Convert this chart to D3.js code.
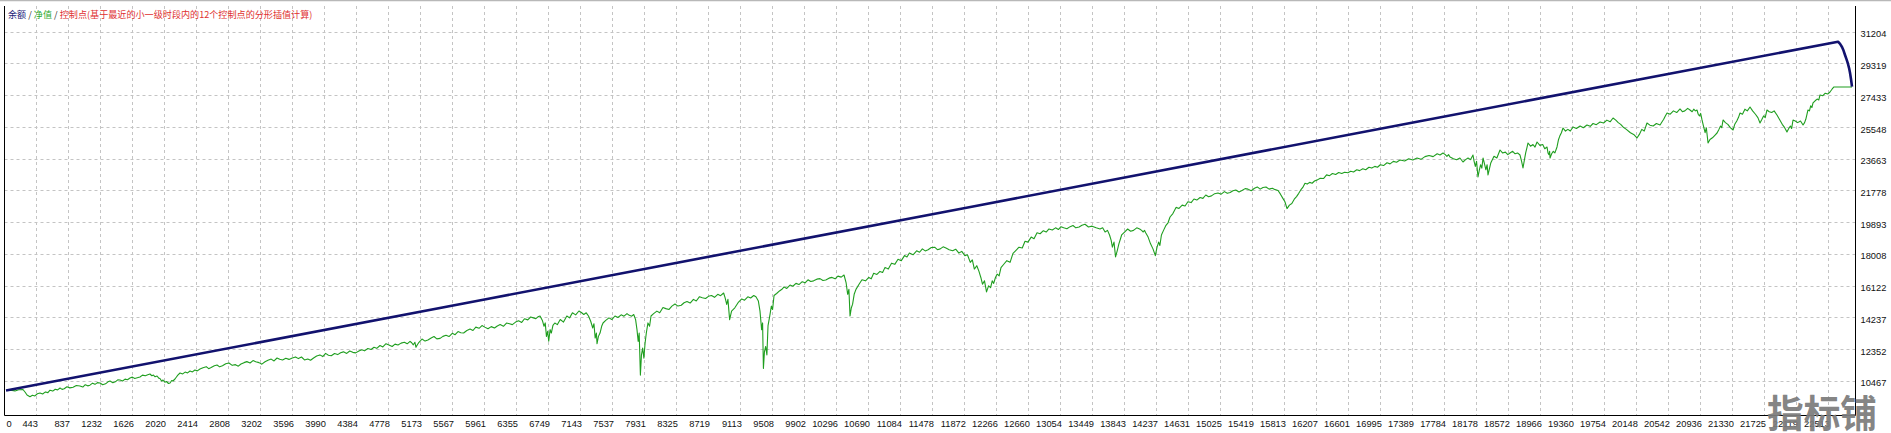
<!DOCTYPE html>
<html><head><meta charset="utf-8">
<script src="https://cdn.jsdelivr.net/npm/d3@7"></script>
<style>
html,body{margin:0;padding:0;background:#fff;overflow:hidden}
svg{display:block}
</style></head><body>
<svg id="c" width="1891" height="433"></svg>
<script>
// ---- legend texts ----
const legendParts = [
  {t:"余额", c:"#1a1a78"},
  {t:" / ", c:"#333333"},
  {t:"净值", c:"#2eaa2e"},
  {t:" / ", c:"#333333"},
  {t:"控制点(基于最近的小一级时段内的12个控制点的分形插值计算)", c:"#e03030"}
];
const watermarkText = "指标铺";

// ---- axis tick labels ----
const xTickValues = [0,443,837,1232,1626,2020,2414,2808,3202,3596,3990,4384,4778,5173,5567,5961,6355,6749,7143,7537,7931,8325,8719,9113,9508,9902,10296,10690,11084,11478,11872,12266,12660,13054,13449,13843,14237,14631,15025,15419,15813,16207,16601,16995,17389,17784,18178,18572,18966,19360,19754,20148,20542,20936,21330,21725,22119,22513];
const yTickValues = [10467,12352,14237,16122,18008,19893,21778,23663,25548,27433,29319,31204];

// ---- balance series [trade index, value] ----
const balance = [[74,9880],[6000,15325],[12000,20838],[17242,25660],[22637,30610],[22662,30480],[22686,30296],[22705,30080],[22723,29821],[22742,29560],[22760,29286],[22773,29040],[22785,28751],[22797,28380],[22809,27936]];

// ---- equity series [trade index, value] ----
const equity = [
[74,9880],[130,9900],[185,9860],[230,9930],[283,9944],[310,9780],[333,9617],[369,9516],[400,9600],[430,9560],[460,9690],[493,9736],[525,9680],[560,9800],[590,9760],[616,9900],[650,9850],[680,9960],[710,9920],[739,10033],[765,9950],[790,9990],[825,10110],[860,10040],[900,10080],[940,10180],[985,10152],[1020,10090],[1050,10230],[1080,10160],[1108,10200],[1140,10320],[1170,10250],[1200,10350],[1232,10330],[1265,10230],[1300,10280],[1330,10400],[1355,10449],[1390,10350],[1420,10400],[1450,10520],[1478,10509],[1510,10450],[1540,10560],[1570,10520],[1601,10627],[1630,10680],[1660,10600],[1690,10640],[1724,10687],[1755,10800],[1790,10760],[1820,10820],[1847,10865],[1870,10760],[1890,10800],[1910,10700],[1934,10746],[1955,10620],[1970,10600],[1990,10450],[2008,10509],[2030,10380],[2050,10420],[2075,10300],[2094,10330],[2115,10480],[2130,10450],[2155,10568],[2175,10700],[2190,10800],[2217,10925],[2250,10870],[2280,10980],[2310,10930],[2340,11043],[2370,10990],[2400,11100],[2430,11050],[2463,11162],
[2500,11240],[2540,11300],[2570,11180],[2600,11250],[2640,11360],[2673,11400],[2705,11290],[2740,11350],[2780,11470],[2820,11520],[2860,11380],[2900,11420],[2935,11330],[2968,11459],[3005,11540],[3040,11600],[3080,11520],[3116,11661],[3150,11590],[3190,11540],[3225,11450],[3264,11590],[3300,11680],[3340,11750],[3375,11640],[3412,11816],[3445,11740],[3480,11700],[3520,11800],[3559,11733],[3600,11820],[3640,11880],[3675,11780],[3713,11875],[3750,11700],[3790,11760],[3825,11680],[3862,11816],[3900,11930],[3940,12000],[3975,11900],[4010,12089],[4045,11980],[4080,11950],[4120,12080],[4159,12018],[4195,12130],[4230,12180],[4270,12090],[4307,12232],[4345,12150],[4380,12120],[4420,12230],[4456,12309],[4490,12240],[4530,12380],[4570,12320],[4606,12452],[4640,12390],[4680,12560],[4715,12470],[4754,12666],[4790,12590],[4830,12500],[4865,12640],[4902,12588],[4940,12700],[4980,12750],[5015,12660],[5050,12808],[5070,12720],[5090,12600],[5110,12750],[5123,12452],[5140,12600],[5160,12750],[5180,12850],[5197,12945],[5235,12820],[5270,12880],[5310,13000],[5345,13093],[5380,12950],[5420,12980],[5455,13100],[5493,13165],[5530,13090],[5570,13280],[5605,13200],[5641,13385],[5675,13320],[5710,13300],[5750,13450],[5789,13539],[5825,13450],[5860,13650],[5900,13580],[5936,13741],[5970,13650],[6010,13550],[6050,13680],[6090,13598],[6125,13720],[6160,13800],[6200,13700],[6238,13895],[6275,13850],[6310,13800],[6350,13950],[6387,14026],[6425,13930],[6460,14150],[6500,14080],[6535,14252],[6570,14200],[6600,14150],[6625,14260],[6651,14311],
[6680,14050],[6700,13700],[6715,13900],[6730,13100],[6745,13400],[6758,12808],[6775,13500],[6790,13300],[6810,13750],[6833,13895],[6865,13800],[6900,14100],[6940,13950],[6981,14311],[7015,14200],[7050,14500],[7090,14380],[7130,14609],[7160,14520],[7190,14400],[7220,14500],[7248,14311],[7275,14000],[7300,13600],[7315,13850],[7330,13000],[7345,13300],[7353,12666],[7370,13100],[7390,13300],[7410,13700],[7427,13895],[7460,14050],[7500,14200],[7535,14100],[7574,14311],[7610,14220],[7650,14380],[7685,14300],[7722,14454],[7750,14350],[7780,14300],[7805,14400],[7828,14098],[7845,13500],[7860,12800],[7872,13300],[7887,10800],[7900,12000],[7915,12400],[7930,11800],[7944,12666],[7960,13300],[7980,13900],[8000,13700],[8018,14311],[8050,14450],[8090,14600],[8125,14500],[8165,14817],[8200,14750],[8240,14700],[8275,14900],[8313,15025],[8350,14900],[8390,14950],[8425,15100],[8461,15173],[8500,15080],[8540,15300],[8575,15200],[8615,15458],[8650,15400],[8690,15350],[8725,15480],[8763,15530],[8800,15420],[8840,15600],[8875,15520],[8912,15678],[8930,15400],[8950,15000],[8965,15300],[8986,14098],[9010,14600],[9050,14800],[9090,15100],[9135,15322],[9170,15250],[9210,15450],[9245,15380],[9283,15530],[9310,15450],[9340,15200],[9360,14600],[9380,13500],[9392,13900],[9402,11200],[9415,12200],[9430,12500],[9445,12000],[9459,13741],[9480,14300],[9500,14900],[9515,14700],[9533,15530],[9565,15650],[9600,15800],[9630,15900],[9656,16035],[9690,15950],[9730,16150],[9765,16080],[9803,16249],[9840,16180],[9880,16350],[9915,16280],[9951,16462],[9985,16360],[10020,16400],[10060,16500],[10099,16534],[10135,16420],[10170,16450],[10210,16560],[10247,16605],[10285,16520],[10320,16680],[10360,16620],[10395,16748],
[10420,16300],[10440,15600],[10455,15900],[10469,14311],[10485,14800],[10500,15000],[10520,15600],[10542,15892],[10580,16200],[10616,16462],[10660,16400],[10700,16600],[10730,16520],[10760,16850],[10800,16780],[10838,16962],[10870,16900],[10900,17200],[10940,17100],[10980,17450],[11020,17380],[11060,17681],[11100,17600],[11140,17900],[11170,17820],[11200,18050],[11245,17950],[11289,18186],[11325,18100],[11360,18300],[11395,18180],[11430,18250],[11470,18380],[11511,18399],[11545,18250],[11580,18300],[11615,18420],[11650,18350],[11690,18250],[11733,18186],[11770,18280],[11810,18050],[11845,18150],[11883,17895],[11915,17950],[11950,17500],[11975,17650],[12000,17100],[12030,17300],[12057,16962],[12080,16600],[12100,16200],[12125,16400],[12150,15744],[12175,16100],[12200,16000],[12220,16400],[12238,16249],[12260,16600],[12280,16800],[12305,16700],[12328,17181],[12365,17400],[12400,17600],[12440,17500],[12476,18037],[12510,18200],[12550,18400],[12590,18350],[12624,18756],[12660,18700],[12700,19000],[12735,18900],[12772,19255],[12810,19200],[12850,19380],[12885,19300],[12919,19481],[12960,19420],[13000,19550],[13035,19450],[13067,19618],[13100,19550],[13140,19500],[13180,19620],[13215,19689],[13250,19550],[13290,19600],[13325,19700],[13363,19760],[13405,19600],[13450,19650],[13500,19550],[13548,19481],[13580,19550],[13610,19300],[13640,19400],[13665,19125],[13685,18800],[13700,18400],[13720,18700],[13739,17823],[13760,18200],[13780,18600],[13800,18900],[13814,19125],[13850,19300],[13888,19481],[13925,19350],[13960,19400],[14000,19550],[14036,19481],[14060,19400],[14080,19300],[14095,19400],[14110,19255],[14140,19000],[14170,18600],[14200,18300],[14229,17895],[14250,18400],[14270,18700],[14285,18500],[14304,19125],[14330,19400],[14360,19700],[14385,19850],[14410,20194],[14445,20400],[14484,20765],
[14520,20700],[14560,20900],[14595,20850],[14630,21100],[14670,21050],[14705,21264],[14740,21200],[14780,21350],[14815,21300],[14850,21500],[14885,21400],[14920,21450],[14960,21580],[15001,21620],[15040,21550],[15080,21700],[15115,21600],[15150,21650],[15185,21750],[15220,21800],[15260,21680],[15296,21769],[15335,21880],[15370,21850],[15410,21750],[15450,21900],[15485,21980],[15520,21850],[15555,21950],[15592,21977],[15630,21850],[15670,21900],[15705,21820],[15740,21769],[15770,21550],[15800,21300],[15825,21100],[15851,20693],[15880,20900],[15910,21000],[15940,21250],[15968,21406],[15995,21600],[16020,21800],[16045,21950],[16072,22197],[16100,22150],[16130,22250],[16160,22200],[16189,22333],[16225,22400],[16260,22500],[16300,22480],[16338,22696],[16375,22650],[16410,22780],[16450,22720],[16487,22838],[16525,22780],[16560,22850],[16600,22820],[16635,22910],[16670,22870],[16710,23000],[16745,22950],[16784,23058],[16820,23000],[16860,23150],[16895,23100],[16932,23201],[16965,23150],[17000,23300],[17040,23250],[17082,23415],
[17120,23350],[17160,23500],[17200,23450],[17242,23581],[17300,23520],[17350,23650],[17400,23580],[17452,23700],[17500,23620],[17550,23780],[17600,23850],[17650,23780],[17700,23950],[17735,23880],[17772,23997],[17800,23900],[17820,23800],[17840,23900],[17858,23759],[17900,23650],[17940,23600],[17980,23700],[18018,23462],[18050,23600],[18080,23700],[18110,23600],[18141,23878],[18155,23500],[18170,23200],[18185,23500],[18203,22571],[18220,23000],[18235,23300],[18250,23100],[18265,23700],[18285,23300],[18300,23000],[18315,23300],[18326,22690],[18360,23400],[18400,23800],[18435,23700],[18474,24175],[18505,24000],[18540,24050],[18570,23900],[18597,23997],[18630,24100],[18660,23950],[18690,24000],[18720,23878],[18740,23500],[18757,23106],[18775,23600],[18790,24000],[18805,24300],[18819,24591],[18850,24400],[18880,24500],[18905,24350],[18930,24651],[18965,24450],[19000,24500],[19025,24250],[19053,24354],[19065,24000],[19075,23900],[19085,24100],[19090,23700],[19110,23950],[19130,24100],[19150,24000],[19176,24354],[19195,24800],[19210,25000],[19230,25200],[19250,25483],[19280,25300],[19310,25400],[19340,25300],[19373,25542],[19415,25450],[19460,25600],[19500,25500],[19545,25661],[19585,25580],[19620,25750],[19660,25680],[19706,25839],[19750,25780],[19790,25950],[19830,25850],[19866,26077],[19900,25950],[19930,25800],[19960,25700],[19989,25542],[20030,25400],[20080,25200],[20120,25100],[20161,24888],[20190,25100],[20220,25400],[20250,25300],[20284,25780],[20320,25650],[20360,25600],[20400,25750],[20445,25661],[20470,25850],[20490,26000],[20510,26200],[20531,26374],[20570,26300],[20610,26500],[20650,26400],[20691,26612],[20720,26450],[20750,26500],[20785,26650],[20814,26552],[20840,26450],[20860,26600],[20880,26500],[20900,26552],[20915,26300],[20930,26200],[20945,26350],[20962,25958],[20980,25600],[21000,25200],[21015,25500],[21036,24591],[21060,24800],[21090,24900],[21120,25050],[21147,25185],[21170,25400],[21190,25600],[21205,25500],[21221,25958],[21250,25800],[21280,25700],[21310,25500],[21344,25364],[21365,25700],[21390,25900],[21410,26100],[21430,26374],[21460,26300],[21490,26600],[21520,26500],[21553,26730],[21585,26500],[21620,26300],[21650,26100],[21676,25780],[21700,26000],[21720,26200],[21740,26100],[21762,26552],[21790,26450],[21820,26400],[21850,26500],[21885,26255],[21915,26000],[21950,25700],[21980,25500],[22008,25245],[22030,25450],[22050,25600],[22065,25450],[22083,25958],[22110,25900],[22140,25800],[22175,25900],[22206,25661],[22225,25800],[22240,26000],[22255,26300],[22267,26552],[22285,26500],[22300,26800],[22315,26700],[22329,26968],[22355,27100],[22380,27200],[22400,27150],[22415,27443],[22450,27400],[22480,27550],[22510,27500],[22538,27622],[22565,27800],[22587,27919],[22809,27919]
];

// ---- layout ----
const L = 4.5, R = 1855.5, T = 6, B = 415.5;
const x = d3.scaleLinear().domain([0, 22846]).range([0, 1855]);
const y = d3.scaleLinear().domain([8399, 32731]).range([B, T]);

const svg = d3.select("#c");
svg.append("rect").attr("width",1891).attr("height",433).attr("fill","#ffffff");
svg.append("line").attr("x1",0).attr("x2",1891).attr("y1",0.5).attr("y2",0.5).attr("stroke","#b8b8b8").attr("stroke-width",1.5);

svg.append("defs").append("clipPath").attr("id","clip")
  .append("rect").attr("x",L).attr("y",T).attr("width",R-L).attr("height",B-T);

// grid
const grid = svg.append("g").attr("stroke","#c4c4c4").attr("stroke-width",1).attr("stroke-dasharray","3,3");
grid.selectAll("line.v").data(xTickValues.filter(v=>v>0)).join("line").attr("class","v")
  .attr("x1",d=>Math.round(x(d))+0.5).attr("x2",d=>Math.round(x(d))+0.5)
  .attr("y1",T).attr("y2",B);
grid.selectAll("line.h").data(yTickValues).join("line").attr("class","h")
  .attr("y1",d=>Math.round(y(d))+0.5).attr("y2",d=>Math.round(y(d))+0.5)
  .attr("x1",L).attr("x2",R);

// series
const plot = svg.append("g").attr("clip-path","url(#clip)");
const line = d3.line().x(d=>x(d[0])).y(d=>y(d[1]));
plot.append("path").datum(equity).attr("d",line).attr("fill","none")
  .attr("stroke","#1f9e1f").attr("stroke-width",1.1).attr("stroke-linejoin","round");
plot.append("path").datum(balance).attr("d",line)
  .attr("fill","none").attr("stroke","#12126e").attr("stroke-width",2.6).attr("stroke-linejoin","round");

// frame
svg.append("path").attr("d",`M${L},${T}V${B}H${R}V${T}`).attr("fill","none").attr("stroke","#000").attr("stroke-width",1);

// x axis labels
const xAxis = d3.axisBottom(x).tickValues(xTickValues).tickSize(0).tickPadding(0).tickFormat(d=>String(d));
const gx = svg.append("g").attr("transform",`translate(0,${B})`).call(xAxis);
gx.select(".domain").remove();
gx.selectAll("text").attr("font-family","'Liberation Sans', Arial, sans-serif").attr("font-size",9.3)
  .attr("fill","#111").attr("text-anchor",d=>d===0?"start":"end")
  .attr("dx",d=>d===0?6:1.5).attr("dy",0).attr("y",11.5);

// y axis labels
const yAxis = d3.axisRight(y).tickValues(yTickValues).tickSize(0).tickPadding(5).tickFormat(d=>String(d));
const gy = svg.append("g").attr("transform",`translate(${R},0)`).call(yAxis);
gy.select(".domain").remove();
gy.selectAll("text").attr("font-family","'Liberation Sans', Arial, sans-serif").attr("font-size",9.3)
  .attr("fill","#111").attr("dy","0.55em").attr("x",5);

// legend
const lg = svg.append("text").attr("x",8).attr("y",17.5)
  .attr("font-family","'Noto Sans CJK SC', sans-serif").attr("font-size",9.1);
lg.selectAll("tspan").data(legendParts).join("tspan").attr("fill",d=>d.c).text(d=>d.t).attr("xml:space","preserve");

// watermark
svg.append("text").attr("x",1767).attr("y",427).attr("font-family","'Noto Sans CJK SC', sans-serif")
  .attr("font-weight","bold").attr("font-size",38).attr("fill","#7d7d7d").attr("fill-opacity",0.95)
  .attr("textLength",110).attr("lengthAdjust","spacingAndGlyphs").text(watermarkText);
</script>
</body></html>
